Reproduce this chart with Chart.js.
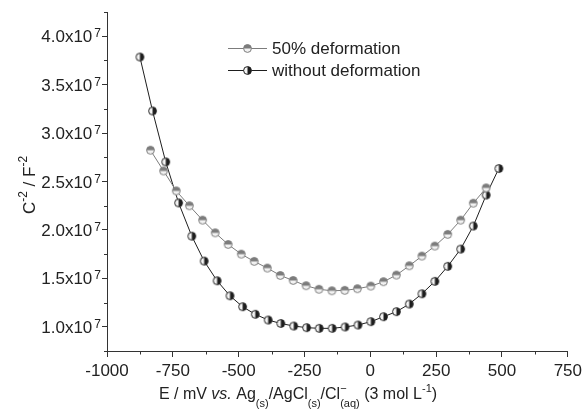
<!DOCTYPE html>
<html>
<head>
<meta charset="utf-8">
<script src="https://cdn.jsdelivr.net/npm/chart.js@4"></script>
<style>
  html, body { margin: 0; background: #fff; }
  #wrap { width: 586px; height: 411px; }
</style>
</head>
<body>
<div id="wrap"><canvas id="chart"></canvas></div>
<script>
// values (E in mV, C^-2 in units of 1e7 F^-2)
const seriesNames = ["50% deformation", "without deformation"];
const grayE = [-835, -785, -737, -687, -637, -589, -540, -490, -441, -391, -342, -293, -244, -195, -146, -97, -49, 2, 50, 99, 148, 196, 245, 294, 343, 391, 440];
const grayC = [2.823, 2.609, 2.403, 2.249, 2.101, 1.970, 1.850, 1.750, 1.675, 1.606, 1.530, 1.478, 1.424, 1.387, 1.372, 1.376, 1.393, 1.420, 1.465, 1.534, 1.630, 1.730, 1.833, 1.954, 2.101, 2.276, 2.434];
const blackE = [-875, -827, -777, -728, -678, -631, -582, -533, -485, -437, -388, -340, -291, -242, -194, -145, -96, -47, 2, 50, 99, 148, 196, 245, 294, 343, 391, 440, 488];
const blackC = [3.785, 3.228, 2.702, 2.279, 1.936, 1.678, 1.475, 1.320, 1.207, 1.129, 1.070, 1.034, 1.008, 0.991, 0.984, 0.984, 0.998, 1.018, 1.053, 1.104, 1.156, 1.235, 1.341, 1.469, 1.624, 1.802, 2.040, 2.360, 2.634];
const xTicks = [-1000, -750, -500, -250, 0, 250, 500, 750];
const yTicks = [1.0, 1.5, 2.0, 2.5, 3.0, 3.5, 4.0];
const yExp = 7;

const FONT = '"Liberation Sans", Arial, sans-serif';
const GRAY = "#7c7c7c";
const DARK = "#1e1e1e";

// half-filled circle markers
function marker(dark, light, split) {
  const s = 11, m = s / 2, r = 3.9;
  const c = document.createElement("canvas");
  c.width = s; c.height = s;
  const g = c.getContext("2d");
  g.fillStyle = light;
  g.beginPath(); g.arc(m, m, r, 0, Math.PI * 2); g.fill();
  g.fillStyle = dark;
  g.beginPath();
  if (split === "top") g.arc(m, m, r, Math.PI, Math.PI * 2);
  else g.arc(m, m, r, -Math.PI / 2, Math.PI / 2);
  g.closePath(); g.fill();
  g.strokeStyle = dark; g.lineWidth = 1;
  g.beginPath(); g.arc(m, m, r, 0, Math.PI * 2); g.stroke();
  return c;
}
const grayMark = marker(GRAY, "#f2f2f2", "top");
const darkMark = marker(DARK, "#f4f4f4", "right");

const toPts = (xs, ys) => xs.map((x, i) => ({ x, y: ys[i] * 1e7 }));

// rich text: [text, kind, noAdvance] kind: n, i, sub, sup
function setFont(g, k, size) {
  if (k === "sub" || k === "sup") g.font = `${size - 5}px ${FONT}`;
  else if (k === "i") g.font = `italic ${size}px ${FONT}`;
  else g.font = `${size}px ${FONT}`;
}
function drawRich(g, parts, x, y, size, subDy) {
  let cx = x;
  for (const p of parts) {
    const [t, k] = p;
    setFont(g, k, size);
    const dy = k === "sub" ? subDy : k === "sup" ? -size * 0.45 : 0;
    g.fillText(t, cx, y + dy);
    if (!p[2]) cx += g.measureText(t).width;
  }
}
function richWidth(g, parts, size) {
  let w = 0;
  for (const p of parts) {
    setFont(g, p[1], size);
    if (!p[2]) w += g.measureText(p[0]).width;
  }
  return w;
}

const decor = {
  id: "decor",
  afterDraw(chart) {
    const g = chart.ctx;
    const xs = chart.scales.x, ys = chart.scales.y;
    const area = chart.chartArea;
    g.save();
    g.strokeStyle = "#333"; g.lineWidth = 1;
    // minor ticks
    for (let v = -875; v < 750; v += 250) {
      const px = Math.round(xs.getPixelForValue(v)) + 0.5;
      g.beginPath(); g.moveTo(px, area.bottom); g.lineTo(px, area.bottom + 3.5); g.stroke();
    }
    for (let v = 0.75; v <= 4.26; v += 0.5) {
      const py = Math.round(ys.getPixelForValue(v * 1e7)) + 0.5;
      g.beginPath(); g.moveTo(area.left, py); g.lineTo(area.left - 3, py); g.stroke();
    }
    // y tick labels with exponent
    g.fillStyle = "#222";
    g.textBaseline = "alphabetic";
    g.textAlign = "left";
    for (const v of yTicks) {
      const py = ys.getPixelForValue(v * 1e7);
      const main = v.toFixed(1) + "x10";
      g.font = `17px ${FONT}`;
      const mw = g.measureText(main).width;
      g.font = `12px ${FONT}`;
      const sw = g.measureText(String(yExp)).width;
      const x0 = area.left - 6 - sw - 2 - mw;
      g.font = `17px ${FONT}`;
      g.fillText(main, x0, py + 6);
      g.font = `12px ${FONT}`;
      g.fillText(String(yExp), x0 + mw + 2, py + 1);
    }
    // x title
    const xt = [["E / mV ", "n"], ["vs.", "i"], [" Ag", "n"], ["(s)", "sub"], ["/AgCl", "n"], ["(s)", "sub"],
      ["/Cl", "n"], ["\u2212", "sup", true], ["(aq)", "sub"], [" (3 mol L", "n"], ["-1", "sup"], [")", "n"]];
    const w = richWidth(g, xt, 16);
    drawRich(g, xt, 298 - w / 2, 399, 16, 8);
    // y title
    g.save();
    g.translate(35, 185);
    g.rotate(-Math.PI / 2);
    const yt = [["C", "n"], ["-2", "sup"], [" / F", "n"], ["-2", "sup"]];
    const yw = richWidth(g, yt, 17);
    drawRich(g, yt, -yw / 2, 0, 17, 6);
    g.restore();
    // legend
    const rows = [[seriesNames[0], GRAY, grayMark, 48], [seriesNames[1], DARK, darkMark, 70]];
    for (const [name, col, mk, y] of rows) {
      g.strokeStyle = col; g.lineWidth = 1;
      g.beginPath(); g.moveTo(228, y + 0.5); g.lineTo(267, y + 0.5); g.stroke();
      g.drawImage(mk, 247.5 - mk.width / 2, y + 0.5 - mk.height / 2);
      g.fillStyle = "#222";
      g.font = `17px ${FONT}`;
      g.textBaseline = "middle";
      g.fillText(name, 272, y + 1);
    }
    g.restore();
  }
};

new Chart(document.getElementById("chart"), {
  type: "scatter",
  data: {
    datasets: [
      {
        label: seriesNames[0],
        data: toPts(grayE, grayC),
        showLine: true, tension: 0,
        borderColor: GRAY, borderWidth: 1,
        pointStyle: grayMark, pointRadius: 4,
      },
      {
        label: seriesNames[1],
        data: toPts(blackE, blackC),
        showLine: true, tension: 0,
        borderColor: DARK, borderWidth: 1,
        pointStyle: darkMark, pointRadius: 4,
      },
    ],
  },
  options: {
    responsive: true,
    maintainAspectRatio: false,
    animation: false,
    events: [],
    layout: { padding: { top: 12, right: 12, left: 0, bottom: 0 } },
    plugins: { legend: { display: false }, tooltip: { enabled: false } },
    scales: {
      x: {
        type: "linear",
        min: -1000, max: 750,
        afterBuildTicks: (s) => { s.ticks = xTicks.map((v) => ({ value: v })); },
        afterFit: (s) => { s.height = 60; },
        ticks: { color: "#222", font: { family: FONT, size: 17 }, padding: 4, maxRotation: 0, autoSkip: false,
                 callback: (v) => String(v) },
        grid: { drawOnChartArea: false, drawTicks: true, tickLength: 6, tickColor: "#333" },
        border: { display: true, color: "#333", width: 1 },
      },
      y: {
        type: "linear",
        min: 0.75e7, max: 4.25e7,
        afterBuildTicks: (s) => { s.ticks = yTicks.map((v) => ({ value: v * 1e7 })); },
        afterFit: (s) => { s.width = 107; },
        ticks: { display: false },
        grid: { drawOnChartArea: false, drawTicks: true, tickLength: 5, tickColor: "#333" },
        border: { display: true, color: "#333", width: 1 },
      },
    },
  },
  plugins: [decor],
});
</script>
</body>
</html>
